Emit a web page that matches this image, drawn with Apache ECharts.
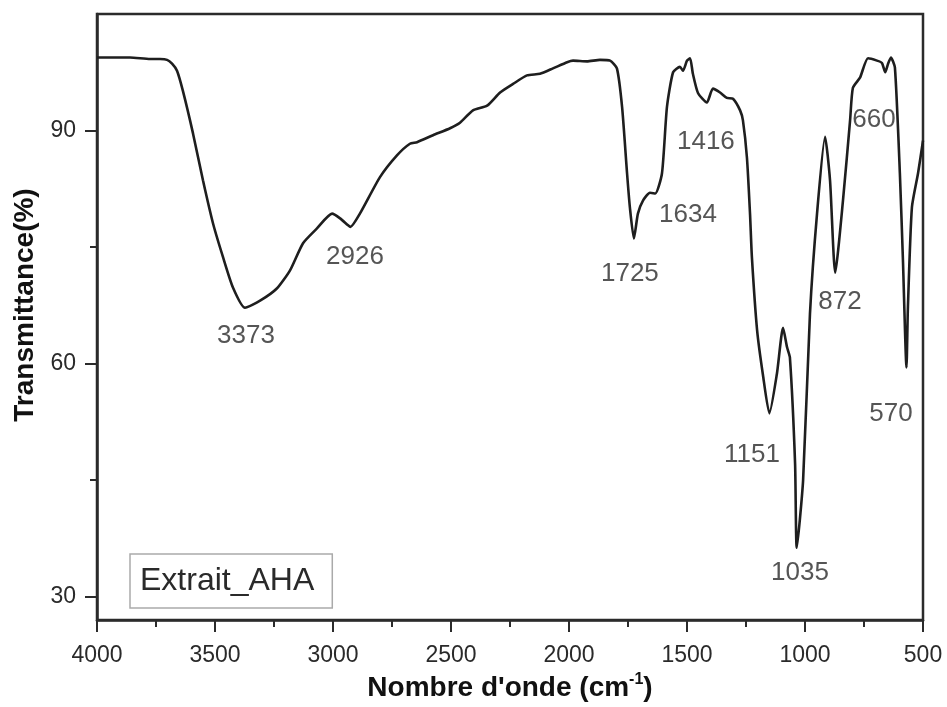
<!DOCTYPE html>
<html>
<head>
<meta charset="utf-8">
<script src="https://cdn.jsdelivr.net/npm/echarts@6/dist/echarts.min.js"></script>
<style>
html,body{margin:0;padding:0;background:#fff;}
#chart{width:947px;height:707px;}
</style>
</head>
<body>
<div id="chart"></div>
<script>
// Wavenumber (cm-1) sampled along the spectrum
const wavenumber = [4000,3860,3775,3733,3703,3682,3661,3636,3593,3551,3508,3466,3424,3373,3309,3237,3182,3127,3068,3004,2970,2936,2926,2886,2801,2729,2674,2644,2576,2504,2462,2407,2347,2292,2237,2178,2123,2068,2008,1983,1924,1869,1826,1797,1775,1754,1742,1725,1708,1686,1657,1634,1606,1585,1559,1530,1517,1500,1487,1475,1453,1416,1390,1360,1331,1305,1275,1263,1246,1233,1225,1203,1178,1151,1119,1093,1076,1064,1042,1035,1008,979,949,915,894,872,839,809,797,767,733,695,674,660,648,636,619,598,585,570,564,547,521,500];
// Transmittance (%)
const transmittance = [99.4,99.4,99.2,99.2,99.1,98.6,97.7,95.1,89.6,83.6,78.0,73.7,69.8,67.2,68.1,69.7,72.0,75.5,77.4,79.3,78.7,77.8,77.6,79.3,84.0,86.8,88.3,88.5,89.4,90.3,91.0,92.6,93.2,94.9,96.0,97.1,97.3,98.0,98.8,99.0,98.9,99.1,99.0,98.0,93.0,84.5,80.1,76.1,79.3,81.0,82.0,81.9,84.5,93.0,97.5,98.2,97.7,99.0,99.3,97.3,94.8,93.6,95.4,94.9,94.2,94.1,92.6,91.3,86.5,79.3,73.7,64.3,58.5,53.6,58.7,64.6,62.1,60.8,47.1,36.3,45.0,66.4,79.3,89.2,83.6,71.7,81.0,91.3,95.5,96.8,99.3,99.0,98.7,97.5,98.6,99.4,98.1,84.5,73.3,59.5,67.2,80.1,84.5,88.7];

// Peak annotations
const peakLabels = ['3373','2926','1725','1634','1416','660','872','1151','570','1035'];
const peakLabelX = [3369,2907,1742,1496,1420,708,852,1225,636,1021];
const peakLabelY = [63.6,73.7,71.5,79.1,88.5,91.4,67.9,48.2,53.6,33.1];

const yTickValues = [30,60,90];
const yMinorTickValues = [45,75];
const seriesName = 'Extrait_AHA';

const lineData = wavenumber.map((w,i)=>[w, transmittance[i]]);
const labelData = peakLabels.map((t,i)=>({value:[peakLabelX[i], peakLabelY[i]], name:t}));

const chart = echarts.init(document.getElementById('chart'), null, {renderer:'canvas'});
const axisColor = '#2b2b2b';
const font = 'Liberation Sans, Arial, sans-serif';
chart.setOption({
  backgroundColor:'#fff',
  animation:false,
  grid:{left:97,right:24,top:14,bottom:87,show:true,borderColor:axisColor,borderWidth:2.5},
  legend:{
    data:[{name:seriesName}],
    left:130, top:554,
    icon:'rect', itemWidth:0, itemHeight:0,
    borderColor:'#aaa', borderWidth:1.5, borderRadius:0,
    padding:[10,18,10,5],
    textStyle:{fontFamily:font,fontSize:32,color:'#2a2a2a',lineHeight:34},
    selectedMode:false
  },
  xAxis:{
    type:'value', min:500, max:4000, interval:500, inverse:true,
    name:"{a|Nombre d'onde (cm}{s|-1}{a|)}",
    nameLocation:'middle', nameGap:52,
    nameTextStyle:{rich:{
      a:{fontFamily:font,fontSize:28,fontWeight:'bold',color:'#111'},
      s:{fontFamily:font,fontSize:16,fontWeight:'bold',color:'#111',padding:[0,0,16,0]}
    }},
    axisLine:{lineStyle:{color:axisColor,width:2.5}},
    axisTick:{length:12,lineStyle:{color:axisColor,width:2}},
    minorTick:{show:true,splitNumber:2,length:7,lineStyle:{color:axisColor,width:2}},
    splitLine:{show:false},
    axisLabel:{fontFamily:font,fontSize:23,color:'#2a2a2a',margin:24,formatter:v=>String(v)}
  },
  yAxis:[{
    type:'value', min:27, max:105,
    name:'Transmittance(%)', nameLocation:'middle', nameGap:54, nameRotate:90,
    nameTextStyle:{fontFamily:font,fontSize:28,fontWeight:'bold',color:'#111',padding:[0,0,0,24]},
    axisLine:{lineStyle:{color:axisColor,width:2.5}},
    axisTick:{length:12,customValues:yTickValues,lineStyle:{color:axisColor,width:2}},
    splitLine:{show:false},
    axisLabel:{fontFamily:font,fontSize:23,color:'#2a2a2a',margin:21,customValues:yTickValues}
  },{
    type:'value', min:27, max:105, position:'left',
    axisLine:{show:false},
    axisTick:{show:true,length:7,customValues:yMinorTickValues,lineStyle:{color:axisColor,width:2}},
    axisLabel:{show:false,customValues:yMinorTickValues},
    splitLine:{show:false}
  }],
  series:[{
    name:seriesName, type:'line', data:lineData, showSymbol:false, symbol:'none',
    smooth:0.2,
    lineStyle:{color:'#1e1e1e',width:2.6},
    itemStyle:{color:'#1e1e1e'}
  },{
    name:'peaks', type:'scatter', data:labelData, symbolSize:0,
    label:{show:true,position:'inside',formatter:p=>p.name,fontFamily:font,fontSize:26,color:'#2a2a2a'},
    silent:true
  }]
});
</script>
</body>
</html>
